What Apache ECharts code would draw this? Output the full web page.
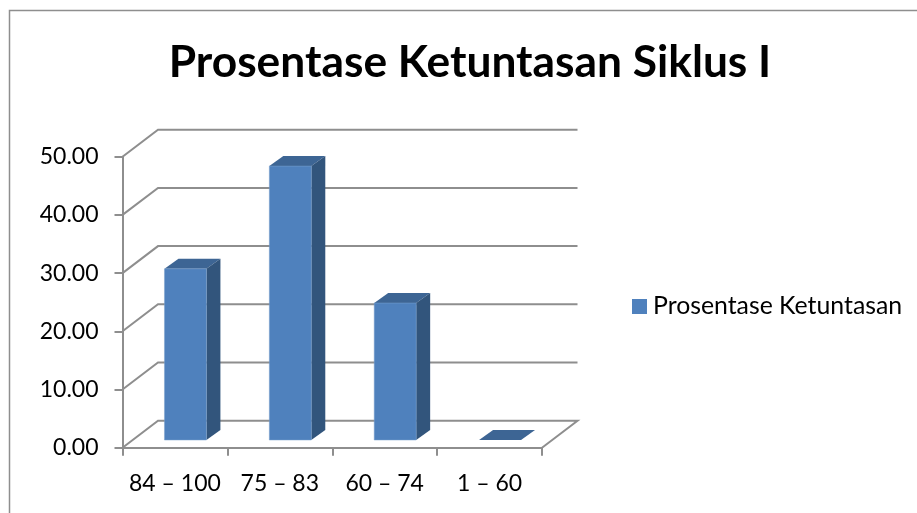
<!DOCTYPE html>
<html>
<head>
<meta charset="utf-8">
<title>Prosentase Ketuntasan Siklus I</title>
<script src="https://cdn.jsdelivr.net/npm/echarts@6/dist/echarts.min.js"></script>
<style>
  html, body { margin: 0; padding: 0; background: #fff; }
  #chart { width: 917px; height: 513px; }
</style>
</head>
<body>
<div id="chart"></div>
<script>
const categories = ['84 – 100', '75 – 83', '60 – 74', '1 – 60']
const persentase = [29.41, 47.06, 23.53, 0]
const yLevels = [0, 10, 20, 30, 40, 50]
const seriesName = 'Prosentase Ketuntasan'

const gridColor = '#8e8e8e'
const wallDx = 35.5   // how far the back wall sits from the front plane
const wallDy = -27
const barDx = 14      // depth of a bar
const barDy = -10
const barShiftX = 10.5  // bars stand on the floor, a bit behind the front edge
const barShiftY = -7.7

function renderWall(params, api) {
  const cs = params.coordSys
  const y = api.coord([0, api.value(0)])[1]
  const left = cs.x
  const right = cs.x + cs.width
  const points = [[left, y], [left + wallDx, y + wallDy], [right + wallDx, y + wallDy]]
  if (api.value(0) === 0) points.push([right, y])
  return {
    type: 'polyline',
    shape: { points },
    style: { fill: 'none', stroke: gridColor, lineWidth: 2 },
    silent: true
  }
}

function renderBar(params, api) {
  const base = api.coord([api.value(0), 0])
  const top = api.coord([api.value(0), api.value(1)])
  const w = api.size([1, 0])[0] * 0.4
  const x0 = base[0] - w / 2 + barShiftX
  const x1 = x0 + w
  const yB = base[1] + barShiftY
  const yT = top[1] + barShiftY
  const children = [{
    type: 'polygon',
    shape: { points: [[x0, yT], [x0 + barDx, yT + barDy], [x1 + barDx, yT + barDy], [x1, yT]] },
    style: { fill: '#3d6594' }
  }]
  if (api.value(1) > 0) {
    children.push({
      type: 'polygon',
      shape: { points: [[x1, yT], [x1 + barDx, yT + barDy], [x1 + barDx, yB + barDy], [x1, yB]] },
      style: { fill: '#32557c' }
    }, {
      type: 'rect',
      shape: { x: x0, y: yT, width: w, height: yB - yT },
      style: { fill: '#4f81bd', stroke: '#7ba0cd', lineWidth: 0.5 }
    })
  }
  return { type: 'group', children }
}

const chart = echarts.init(document.getElementById('chart'), null, { renderer: 'canvas' })
chart.setOption({
  animation: false,
  backgroundColor: '#ffffff',
  textStyle: { fontFamily: 'Lato' },
  title: {
    text: 'Prosentase Ketuntasan Siklus I',
    left: 465,
    top: 36,
    textAlign: 'center',
    textStyle: { fontFamily: 'Lato', fontSize: 44.3, fontWeight: 'bold', color: '#000000' }
  },
  legend: {
    data: [{ name: seriesName, icon: 'rect', itemStyle: { color: '#4f81bd' } }],
    left: 627,
    top: 289,
    itemWidth: 15,
    itemHeight: 15,
    itemGap: 0,
    textStyle: { fontFamily: 'Lato', fontSize: 24.8, color: '#000000', padding: [0, 0, 0, 1] }
  },
  grid: { left: 122.5, right: 375, top: 156.7, bottom: 65.3 },
  xAxis: {
    type: 'category',
    data: categories,
    axisLine: { lineStyle: { color: gridColor, width: 2 } },
    axisTick: { show: true, alignWithLabel: false, length: 8, lineStyle: { color: gridColor, width: 2 } },
    axisLabel: { fontFamily: 'Lato', fontSize: 23, color: '#000000', margin: 24, interval: 0 }
  },
  yAxis: {
    type: 'value',
    min: 0,
    max: 50,
    interval: 10,
    splitLine: { show: false },
    axisLine: { show: true, lineStyle: { color: gridColor, width: 2 } },
    axisTick: { show: true, length: 8, lineStyle: { color: gridColor, width: 2 } },
    axisLabel: {
      fontFamily: 'Lato', fontSize: 23, color: '#000000', margin: 24,
      formatter: v => v.toFixed(2)
    }
  },
  series: [
    {
      type: 'custom',
      name: 'dinding',
      renderItem: renderWall,
      data: yLevels.map(v => [v]),
      encode: { y: 0 },
      silent: true,
      z: 1
    },
    {
      type: 'custom',
      name: seriesName,
      renderItem: renderBar,
      data: persentase.map((v, i) => [i, v]),
      encode: { x: 0, y: 1 },
      itemStyle: { color: '#4f81bd' },
      z: 3
    }
  ],
  graphic: [{
    type: 'polyline',
    shape: { points: [[9.5, 513], [9.5, 10.5], [917, 10.5]] },
    style: { fill: 'none', stroke: '#8e8e8e', lineWidth: 1.5 },
    silent: true
  }]
})
</script>
</body>
</html>
